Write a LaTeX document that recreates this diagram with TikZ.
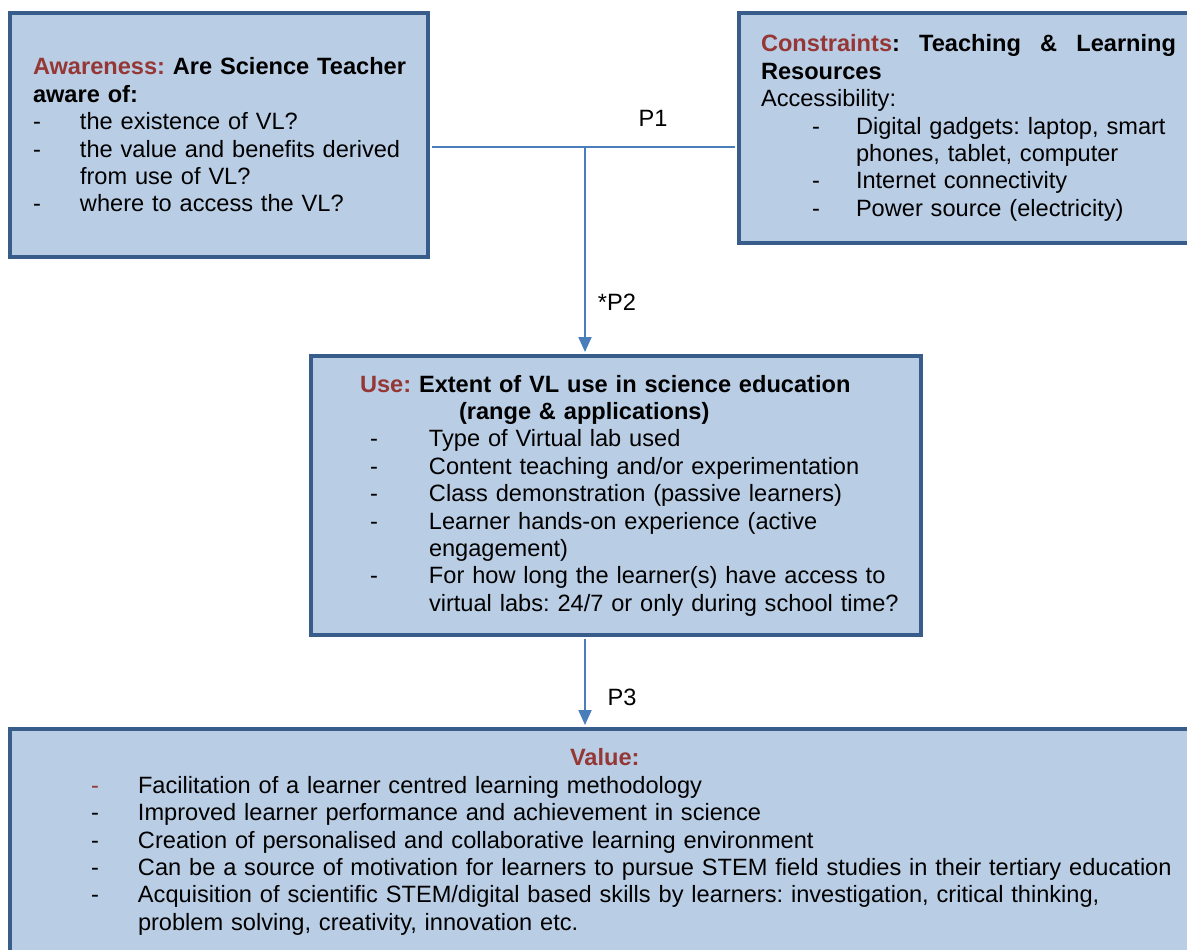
\documentclass[tikz,border=0pt]{standalone}
\usepackage{fontspec}
\setmainfont{Liberation Sans}
\usepackage{tikz}
\usetikzlibrary{arrows.meta, calc}
\frenchspacing

\definecolor{boxfill}{HTML}{B9CDE5}
\definecolor{boxline}{HTML}{385D8A}
\definecolor{headred}{HTML}{953735}
\definecolor{linkblue}{HTML}{4A7EBB}

\newcommand{\hd}[1]{\textcolor{headred}{\textbf{#1}}}
% list line: left skip, dash column, text
\newcommand{\itm}[3]{\mbox{\hspace*{#1}\makebox[#2][l]{-}#3}}
% wrapped line / shifted line
\newcommand{\cnt}[2]{\mbox{\hspace*{#1}#2}}

\begin{document}
\begin{tikzpicture}[
  x=0.5pt, y=-0.5pt,
  font=\fontsize{11.8pt}{13.7pt}\selectfont,
  box/.style={draw=boxline, line width=2pt, fill=boxfill, align=left, inner sep=0pt},
  lbl/.style={inner sep=0pt},
  link/.style={draw=linkblue, line width=1pt},
  arr/.style={link, -{Triangle[length=7.5pt, width=6.5pt]}, shorten >=1pt}
]
\useasboundingbox (0,0) rectangle (1187,949);
\clip (0,0) rectangle (1187,949);

\node[box, minimum width=209pt, minimum height=122pt, text width=186pt] (aware) at (219,135) {%
  \mbox{\hd{Awareness:} \textbf{Are Science Teacher}}\\
  \textbf{aware of:}\\
  \itm{0pt}{23.5pt}{the existence of VL?}\\
  \itm{0pt}{23.5pt}{the value and benefits derived}\\
  \cnt{23.5pt}{from use of VL?}\\
  \itm{0pt}{23.5pt}{where to access the VL?}};

\node[box, minimum width=229.5pt, minimum height=115pt, text width=207.5pt] (cons) at (968.5,128) {%
  \makebox[207.5pt][l]{\hd{Constraints}\textbf{:}\hfill\textbf{Teaching}\hfill\textbf{\&}\hfill\textbf{Learning}}\\
  \textbf{Resources}\\
  Accessibility:\\
  \itm{25.5pt}{22pt}{Digital gadgets: laptop, smart}\\
  \cnt{47.5pt}{phones, tablet, computer}\\
  \itm{25.5pt}{22pt}{Internet connectivity}\\
  \itm{25.5pt}{22pt}{Power source (electricity)}};

\node[box, minimum width=305pt, minimum height=139.5pt, text width=281pt] (use) at (616,495.5) {%
  \cnt{12.5pt}{\hd{Use:} \textbf{Extent of VL use in science education}}\\
  \cnt{62pt}{\textbf{(range \& applications)}}\\
  \itm{17.5pt}{29.5pt}{Type of Virtual lab used}\\
  \itm{17.5pt}{29.5pt}{Content teaching and/or experimentation}\\
  \itm{17.5pt}{29.5pt}{Class demonstration (passive learners)}\\
  \itm{17.5pt}{29.5pt}{Learner hands-on experience (active}\\
  \cnt{47pt}{engagement)}\\
  \itm{17.5pt}{29.5pt}{For how long the learner(s) have access to}\\
  \cnt{47pt}{virtual labs: 24/7 or only during school time?}};

\node[box, minimum width=595pt, minimum height=113pt, text width=514pt] (val) at (605,842) {%
  \cnt{239.5pt}{\hd{Value:}}\\
  \mbox{\makebox[23.5pt][l]{\textcolor{headred}{-}}Facilitation of a learner centred learning methodology}\\
  \itm{0pt}{23.5pt}{Improved learner performance and achievement in science}\\
  \itm{0pt}{23.5pt}{Creation of personalised and collaborative learning environment}\\
  \itm{0pt}{23.5pt}{Can be a source of motivation for learners to pursue STEM field studies in their tertiary education}\\
  \itm{0pt}{23.5pt}{Acquisition of scientific STEM/digital based skills by learners: investigation, critical thinking,}\\
  \cnt{23.5pt}{problem solving, creativity, innovation etc.}};

% links between the boxes
\coordinate (jn) at (585,147);
\draw[link, shorten <=1pt, shorten >=1pt] (aware.east |- jn) -- (cons.west |- jn);
\draw[arr] (jn) -- (use.north -| jn);
\draw[arr, shorten <=1pt] (use.south -| jn) -- (val.north -| jn);

\node[lbl] (p1) at (653,118) {P1};
\node[lbl] (p2) at (617,302) {*P2};
\node[lbl] (p3) at (622,697) {P3};
\end{tikzpicture}
\end{document}
